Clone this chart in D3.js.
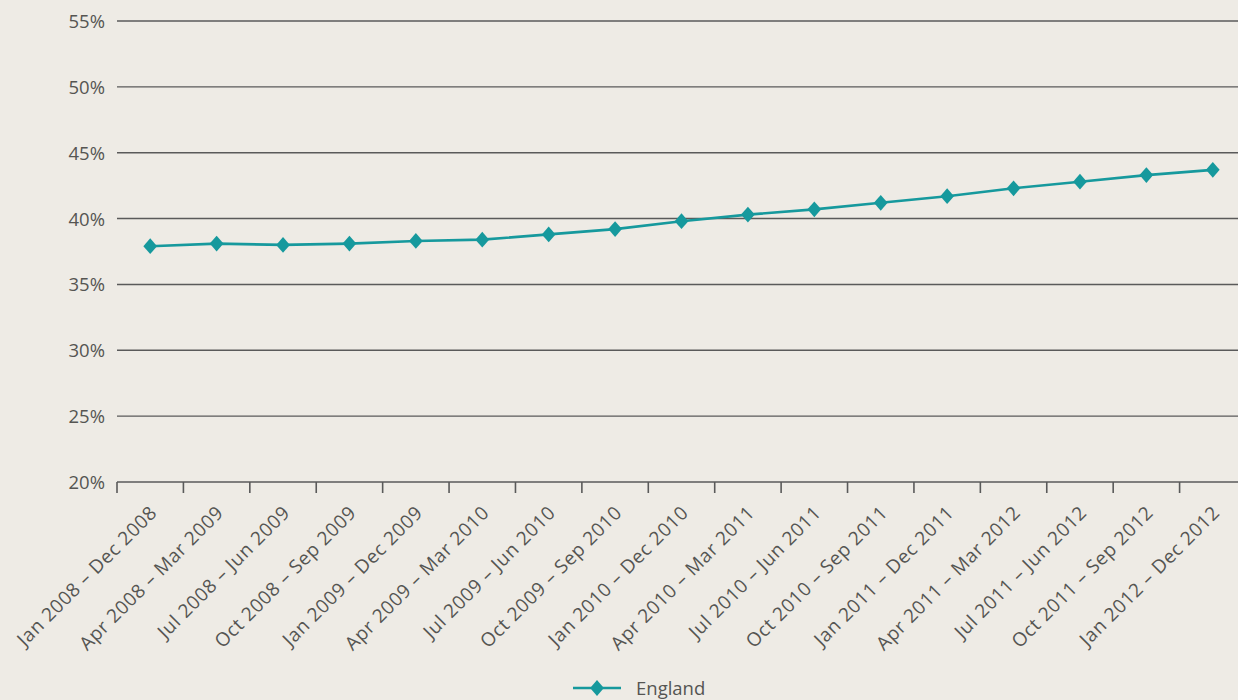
<!DOCTYPE html>
<html>
<head>
<meta charset="utf-8">
<script src="https://cdn.jsdelivr.net/npm/d3@7"></script>
<style>
  html, body { margin: 0; padding: 0; background: #eeebe5; }
  svg { display: block; }
  text { font-family: "Open Sans", Lato, sans-serif; font-weight: 400; fill: #555552; }
</style>
</head>
<body>
<svg id="chart" width="1238" height="700"></svg>
<script>
// Rolling 12-month periods
const periods = [
  "Jan 2008 – Dec 2008", "Apr 2008 – Mar 2009", "Jul 2008 – Jun 2009",
  "Oct 2008 – Sep 2009", "Jan 2009 – Dec 2009", "Apr 2009 – Mar 2010",
  "Jul 2009 – Jun 2010", "Oct 2009 – Sep 2010", "Jan 2010 – Dec 2010",
  "Apr 2010 – Mar 2011", "Jul 2010 – Jun 2011", "Oct 2010 – Sep 2011",
  "Jan 2011 – Dec 2011", "Apr 2011 – Mar 2012", "Jul 2011 – Jun 2012",
  "Oct 2011 – Sep 2012", "Jan 2012 – Dec 2012"
];

// England rate (%)
const england = [37.9, 38.1, 38.0, 38.1, 38.3, 38.4, 38.8, 39.2, 39.8,
                 40.3, 40.7, 41.2, 41.7, 42.3, 42.8, 43.3, 43.7];

const yTicks = [20, 25, 30, 35, 40, 45, 50, 55];
const seriesName = "England";

const svg = d3.select("#chart");
const plot = { left: 117, right: 1246, top: 21, bottom: 482 };
const teal = "#16999d";
const gridColor = "#5a5a5a";

const x = d3.scaleBand().domain(periods).range([plot.left, plot.right]);
const y = d3.scaleLinear().domain([20, 55]).range([plot.bottom, plot.top]);

// Horizontal gridlines and y labels
const yAxis = svg.append("g");
yAxis.selectAll("line").data(yTicks.filter(t => t > 20)).join("line")
  .attr("x1", plot.left).attr("x2", 1238)
  .attr("y1", d => y(d)).attr("y2", d => y(d))
  .attr("stroke", gridColor).attr("stroke-width", 1.4);
yAxis.selectAll("text").data(yTicks).join("text")
  .attr("x", 105).attr("y", d => y(d) + 7)
  .attr("text-anchor", "end")
  .attr("font-size", 18.5)
  .text(d => d + "%");

// X axis with ticks at category boundaries
const xAxis = svg.append("g").attr("transform", `translate(0,${plot.bottom})`);
xAxis.append("line")
  .attr("x1", plot.left).attr("x2", 1238)
  .attr("stroke", gridColor).attr("stroke-width", 1.6);
xAxis.selectAll("line.tick").data(periods).join("line")
  .attr("class", "tick")
  .attr("x1", d => x(d)).attr("x2", d => x(d))
  .attr("y1", 0).attr("y2", 11)
  .attr("stroke", gridColor).attr("stroke-width", 1.6);
xAxis.selectAll("text").data(periods).join("text")
  .attr("transform", d => `translate(${x(d) + x.bandwidth() / 2 + 8},${32}) rotate(-45)`)
  .attr("text-anchor", "end")
  .attr("font-size", 19)
  .attr("letter-spacing", 0.6)
  .text(d => d);

// Series line and diamond markers
const cx = d => x(d) + x.bandwidth() / 2;
const line = d3.line()
  .x((d, i) => cx(periods[i]))
  .y(d => y(d));
svg.append("path")
  .datum(england)
  .attr("d", line)
  .attr("fill", "none")
  .attr("stroke", teal)
  .attr("stroke-width", 2.6);

const diamond = d3.symbol().type(d3.symbolDiamond2).size(120);
svg.selectAll("path.marker").data(england).join("path")
  .attr("class", "marker")
  .attr("d", diamond)
  .attr("transform", (d, i) => `translate(${cx(periods[i])},${y(d)}) scale(1,1.15)`)
  .attr("fill", teal);

// Legend
const legend = svg.append("g").attr("transform", "translate(573,688)");
legend.append("line").attr("x1", 0).attr("x2", 48)
  .attr("stroke", teal).attr("stroke-width", 2.6);
legend.append("path").attr("d", diamond)
  .attr("transform", "translate(24,0) scale(1,1.15)")
  .attr("fill", teal);
legend.append("text").attr("x", 63).attr("y", 7)
  .attr("font-size", 18.5)
  .text(seriesName);
</script>
</body>
</html>
